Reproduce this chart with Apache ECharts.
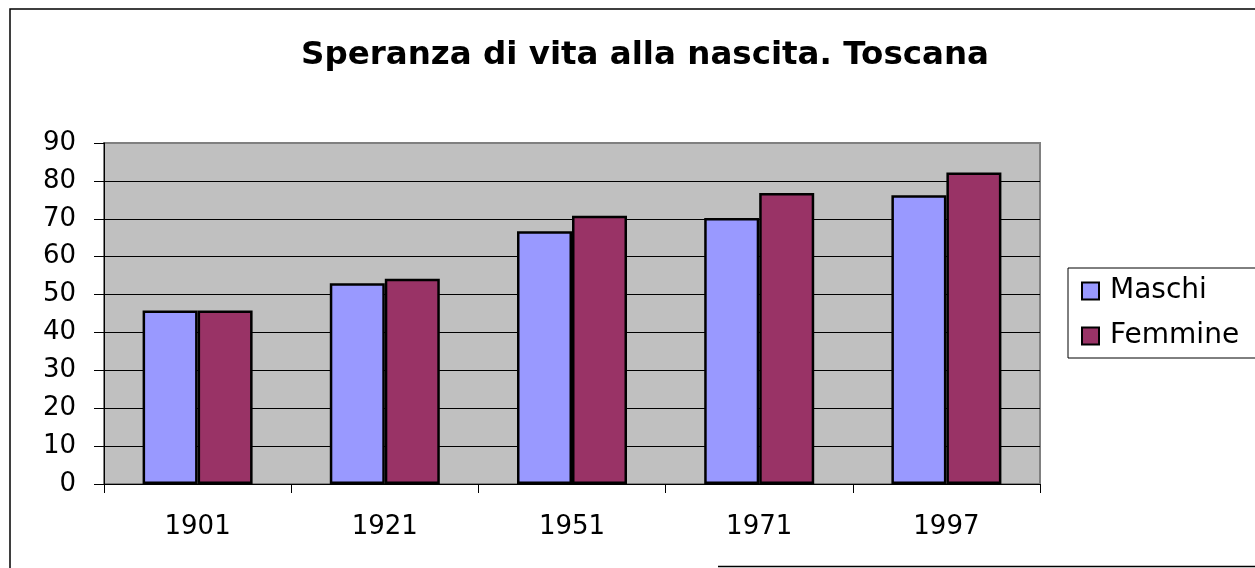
<!DOCTYPE html>
<html>
<head>
<meta charset="utf-8">
<script src="https://cdn.jsdelivr.net/npm/echarts@6/dist/echarts.min.js"></script>
<style>
html,body{margin:0;padding:0;background:#fff;}
#chart{width:1255px;height:568px;}
</style>
</head>
<body>
<div id="chart"></div>
<script>
const titleText = 'Speranza di vita alla nascita. Toscana';
const categories = ['1901', '1921', '1951', '1971', '1997'];
const maschi = [45.8, 53.0, 66.7, 70.2, 76.2];
const femmine = [45.8, 54.2, 70.8, 76.8, 82.2];
const seriesNames = ['Maschi', 'Femmine'];

const FONT = 'DejaVu Sans';
const chart = echarts.init(document.getElementById('chart'), null, {renderer: 'canvas'});
chart.setOption({
  animation: false,
  backgroundColor: '#ffffff',
  title: {
    text: titleText,
    left: 640,
    textAlign: 'center',
    top: 34,
    textStyle: {fontFamily: FONT, fontWeight: 'bold', fontSize: 32.5, color: '#000'}
  },
  legend: {
    orient: 'vertical',
    left: 1068,
    top: 268,
    data: seriesNames,
    icon: 'rect',
    itemWidth: 17,
    itemHeight: 17,
    itemGap: 17,
    padding: [9, 40, 8, 13],
    borderColor: '#000',
    borderWidth: 1,
    backgroundColor: '#fff',
    textStyle: {fontFamily: FONT, fontSize: 28, color: '#000', padding: [0, 0, 0, 6]}
  },
  grid: {
    left: 104, right: 215, top: 143, bottom: 84,
    show: true,
    backgroundColor: '#C0C0C0',
    borderColor: '#808080',
    borderWidth: 2
  },
  xAxis: {
    type: 'category',
    data: categories,
    axisLine: {lineStyle: {color: '#000', width: 1}},
    axisTick: {show: true, length: 9, lineStyle: {color: '#000'}},
    axisLabel: {fontFamily: FONT, fontSize: 26, color: '#000', margin: 30},
    splitLine: {show: false}
  },
  yAxis: {
    type: 'value',
    min: 0, max: 90, interval: 10,
    axisLine: {show: true, lineStyle: {color: '#000', width: 1}},
    axisTick: {show: true, length: 10, lineStyle: {color: '#000'}},
    axisLabel: {fontFamily: FONT, fontSize: 26, color: '#000', margin: 28},
    splitLine: {show: true, lineStyle: {color: ['#000','#000','#000','#000','#000','#000','#000','#000','#000','#808080'], width: 1}}
  },
  series: [
    {
      name: seriesNames[0], type: 'bar', data: maschi,
      barWidth: 55, barGap: '0%',
      itemStyle: {color: '#9999FF', borderColor: '#000', borderWidth: 2.5}
    },
    {
      name: seriesNames[1], type: 'bar', data: femmine,
      barWidth: 55, barGap: '0%',
      itemStyle: {color: '#993366', borderColor: '#000', borderWidth: 2.5}
    }
  ],
  graphic: [
    {type: 'rect', shape: {x: 10, y: 9, width: 1400, height: 800}, style: {fill: 'none', stroke: '#000', lineWidth: 1.5}, silent: true},
    {type: 'line', shape: {x1: 718, y1: 566.5, x2: 1255, y2: 566.5}, style: {stroke: '#000', lineWidth: 1.5}, silent: true}
  ]
});
</script>
</body>
</html>
